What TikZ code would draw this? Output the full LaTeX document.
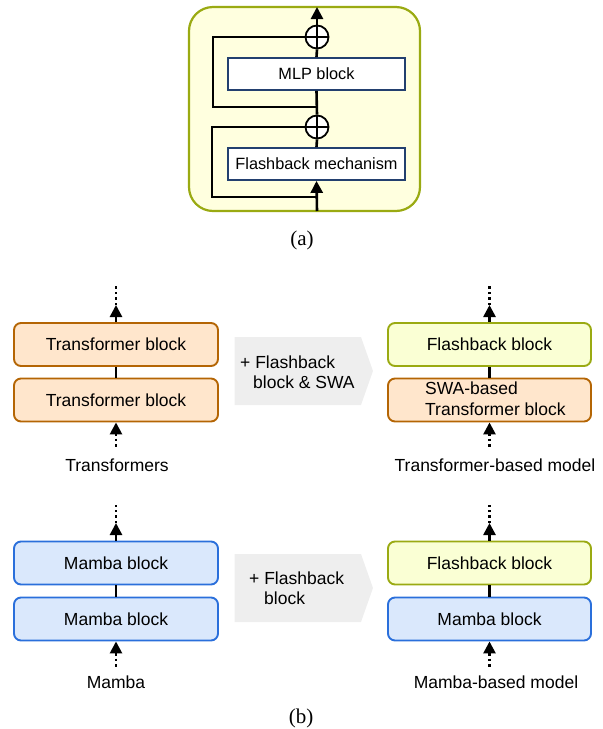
\documentclass[tikz,border=0pt]{standalone}
\usepackage{fontspec}
\setmainfont{Liberation Sans}
\newfontfamily\capfont{Liberation Serif}
\usetikzlibrary{arrows.meta}
\definecolor{tfill}{HTML}{FFE6CC}
\definecolor{tborder}{HTML}{B46504}
\definecolor{mfill}{HTML}{DAE8FC}
\definecolor{mborder}{HTML}{2A6FDB}
\definecolor{ffill}{HTML}{FAFFD4}
\definecolor{fborder}{HTML}{9AAA12}
\definecolor{pfill}{HTML}{FFFFDF}
\definecolor{navy}{HTML}{23406F}
\definecolor{greyfill}{HTML}{EEEEEE}
\tikzset{
  x=1pt, y=-1pt,
  conn/.style={line width=2.6pt, black},
  tip/.style={-{Triangle[length=12pt,width=12pt]}},
  dotline/.style={line width=2.2pt, dash pattern=on 2.5pt off 3pt},
  innerbox/.style={draw=navy, line width=1.8pt, fill=white, minimum width=177pt, minimum height=32pt, inner sep=0pt, font=\fontsize{16.3}{19}\selectfont},
  oplus/.style={draw, circle, line width=1.8pt, fill=white, minimum size=23pt, inner sep=0pt,
    path picture={\draw[line width=1.5pt] (path picture bounding box.north) -- (path picture bounding box.south) (path picture bounding box.west) -- (path picture bounding box.east);}},
  blk/.style={rounded corners=7pt, line width=1.9pt, minimum height=43pt, inner sep=0pt, font=\fontsize{17.5}{21}\selectfont},
  tblk/.style={blk, draw=tborder, fill=tfill},
  mblk/.style={blk, draw=mborder, fill=mfill},
  fblk/.style={blk, draw=fborder, fill=ffill},
  lbl/.style={font=\fontsize{17.5}{21}\selectfont, inner sep=0pt},
  caplbl/.style={font=\capfont\fontsize{21}{24}\selectfont, inner sep=0pt},
  gtext/.style={font=\fontsize{17.5}{20.5}\selectfont, align=left, anchor=west, inner sep=0pt},
}
\begin{document}
\begin{tikzpicture}
\useasboundingbox (0,0) rectangle (603,729);
% ---------- panel (a)
\node[draw=fborder, fill=pfill, line width=2.2pt, rounded corners=24pt, minimum width=231pt, minimum height=204pt, inner sep=0pt] (panela) at (304.5,109) {};
\node[innerbox] (mlp) at (316.5,74) {MLP block};
\node[innerbox] (fm) at (316.5,164) {Flashback mechanism};
\node[oplus] (c1) at (317,37) {};
\node[oplus] (c2) at (317,127) {};
\coordinate (atop) at (317,7);
\coordinate (abot) at (317,211);
\coordinate (j1) at (317,107);
\coordinate (j2) at (317,197);
\draw[conn, tip] (c1.north) -- (atop);
\draw[conn] (mlp.north) -- (c1.south);
\draw[conn] (c2.north) -- (mlp.south);
\draw[conn] (fm.north) -- (c2.south);
\draw[conn, tip] (abot) -- (fm.south);
\draw[conn] (j1) -- ++(-104,0) |- (c1.west);
\draw[conn] (j2) -- ++(-105,0) |- (c2.west);
\node[caplbl] (capa) at (302,240) {(a)};
% ---------- panel (b) transformer row
\node[tblk, minimum width=204pt] (t1) at (116,344.5) {Transformer block};
\node[tblk, minimum width=204pt] (t2) at (116,400) {Transformer block};
\coordinate (t1a) at (116,305);
\coordinate (t1b) at (116,285);
\coordinate (t2a) at (116,433);
\coordinate (t2b) at (116,448);
\draw[conn, tip] (t1.north) -- (t1a);
\draw[dotline] (t1a) -- (t1b);
\draw[conn] (t2.north) -- (t1.south);
\draw[conn, tip] (t2a) -- (t2.south);
\draw[dotline] (t2a) -- (t2b);
\node[lbl] (lt) at (117,465) {Transformers};

\fill[greyfill] (234.6,337) -- (361,337) -- (373,371) -- (361,405) -- (234.6,405) -- cycle;
\node[gtext] (g1) at (240,372) {+ Flashback\\\hspace*{13pt}block \& SWA};

\node[fblk, minimum width=203pt] (f1) at (489.5,344.5) {Flashback block};
\node[tblk, minimum width=203pt] (s1) at (489.5,400) {};
\node[gtext] (s1t) at (425,398.5) {SWA-based\\Transformer block};
\coordinate (f1a) at (489.5,305);
\coordinate (f1b) at (489.5,285);
\coordinate (s1a) at (489.5,433);
\coordinate (s1b) at (489.5,448);
\draw[conn, tip] (f1.north) -- (f1a);
\draw[dotline] (f1a) -- (f1b);
\draw[conn] (s1.north) -- (f1.south);
\draw[conn, tip] (s1a) -- (s1.south);
\draw[dotline] (s1a) -- (s1b);
\node[lbl] (lr) at (495,465) {Transformer-based model};
% ---------- mamba row
\node[mblk, minimum width=204pt] (m1) at (116,563) {Mamba block};
\node[mblk, minimum width=204pt] (m2) at (116,619) {Mamba block};
\coordinate (m1a) at (116,523);
\coordinate (m1b) at (116,505);
\coordinate (m2a) at (116,653);
\coordinate (m2b) at (116,667);
\draw[conn, tip] (m1.north) -- (m1a);
\draw[dotline] (m1a) -- (m1b);
\draw[conn] (m2.north) -- (m1.south);
\draw[conn, tip] (m2a) -- (m2.south);
\draw[dotline] (m2a) -- (m2b);
\node[lbl] (lm) at (116,682) {Mamba};

\fill[greyfill] (234.6,554) -- (361,554) -- (373,588) -- (361,622) -- (234.6,622) -- cycle;
\node[gtext] (g2) at (249,588) {+ Flashback\\\hspace*{15pt}block};

\node[fblk, minimum width=203pt] (f2) at (489.5,563) {Flashback block};
\node[mblk, minimum width=203pt] (m3) at (489.5,619) {Mamba block};
\coordinate (f2a) at (489.5,523);
\coordinate (f2b) at (489.5,505);
\coordinate (m3a) at (489.5,653);
\coordinate (m3b) at (489.5,667);
\draw[conn, tip] (f2.north) -- (f2a);
\draw[dotline] (f2a) -- (f2b);
\draw[conn] (m3.north) -- (f2.south);
\draw[conn, tip] (m3a) -- (m3.south);
\draw[dotline] (m3a) -- (m3b);
\node[lbl] (lmr) at (496,682) {Mamba-based model};
\node[caplbl] (capb) at (301,718) {(b)};
\end{tikzpicture}
\end{document}
